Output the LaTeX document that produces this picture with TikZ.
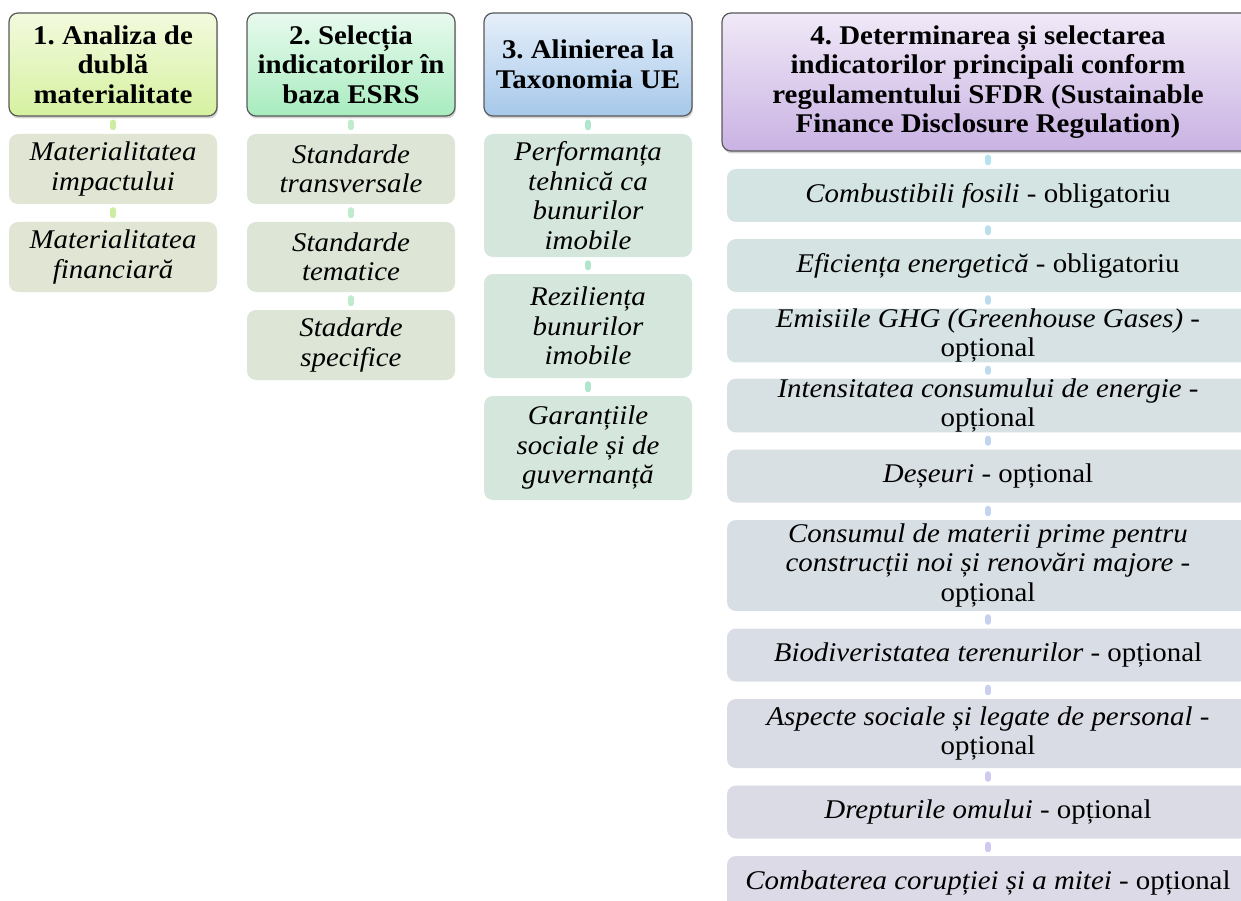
\documentclass[tikz,border=0pt]{standalone}
\usepackage{fontspec}
\setmainfont{Liberation Serif}[FakeStretch=1.07]
\frenchspacing
\usetikzlibrary{shadows}

\definecolor{hdaTop}{HTML}{F3FADE}
\definecolor{hdaBot}{HTML}{D6F1A0}
\definecolor{hdbTop}{HTML}{E8FAEE}
\definecolor{hdbBot}{HTML}{A8ECBF}
\definecolor{hdcTop}{HTML}{E6EFFA}
\definecolor{hdcBot}{HTML}{A6C8EA}
\definecolor{hddTop}{HTML}{F0E9F7}
\definecolor{hddBot}{HTML}{C9B2E3}
\definecolor{itemA}{HTML}{E1E6D4}
\definecolor{itemB}{HTML}{DDE6D6}
\definecolor{itemC}{HTML}{D5E6DD}
\definecolor{itemTop}{HTML}{D4E4E2}
\definecolor{itemBot}{HTML}{DCDAE6}
\definecolor{dotA}{HTML}{CDEDA0}
\definecolor{dotB}{HTML}{BDEDCB}
\definecolor{dotC}{HTML}{B0E6CC}
\definecolor{dotTop}{HTML}{B5E2EC}
\definecolor{dotBot}{HTML}{D0C8F0}

\begin{document}
\begin{tikzpicture}[x=1pt,y=-1pt,
    every node/.style={align=center, inner sep=0pt},
    head/.style={rounded corners=9pt, draw=black!65, line width=1.2pt,
        drop shadow={shadow xshift=1pt, shadow yshift=-2.5pt, opacity=0.35},
        font=\fontsize{27}{29.5}\selectfont\bfseries, minimum width=208pt, minimum height=103pt},
    item/.style={rounded corners=9pt, minimum width=208pt,
        font=\fontsize{27}{29.5}\selectfont\itshape},
    wide/.style={item, minimum width=522pt, minimum height=53pt,
        font=\fontsize{27}{29.5}\selectfont},
    link/.style={line width=6pt, shorten <=6pt, shorten >=6.5pt, line cap=round}
]
\useasboundingbox (0,0) rectangle (1241,901);

\node[head, top color=hdaTop, bottom color=hdaBot] (h1) at (113,64.5) {1. Analiza de\\dublă\\materialitate};
\node[head, top color=hdbTop, bottom color=hdbBot] (h2) at (351,64.5) {2. Selecția\\indicatorilor în\\baza ESRS};
\node[head, top color=hdcTop, bottom color=hdcBot] (h3) at (588,64.5) {3. Alinierea la\\Taxonomia UE};
\node[head, top color=hddTop, bottom color=hddBot, minimum width=532pt, minimum height=138pt] (h4) at (988,82)
    {4. Determinarea și selectarea\\indicatorilor principali conform\\regulamentului SFDR (Sustainable\\Finance Disclosure Regulation)};

\node[item, fill=itemA, minimum height=70pt] (m1) at (113,169) {Materialitatea\\impactului};
\node[item, fill=itemA, minimum height=70pt] (m2) at (113,257) {Materialitatea\\financiară};

\node[item, fill=itemB, minimum height=70pt] (e1) at (351,169) {Standarde\\transversale};
\node[item, fill=itemB, minimum height=70pt] (e2) at (351,257) {Standarde\\tematice};
\node[item, fill=itemB, minimum height=70pt] (e3) at (351,345) {Stadarde\\specifice};

\node[item, fill=itemC, minimum height=123pt] (t1) at (588,195.5) {Performanța\\tehnică ca\\bunurilor\\imobile};
\node[item, fill=itemC, minimum height=104pt] (t2) at (588,326) {Reziliența\\bunurilor\\imobile};
\node[item, fill=itemC, minimum height=104pt] (t3) at (588,448) {Garanțiile\\sociale și de\\guvernanță};

\node[wide, fill=itemTop] (s1) at (988,195.5) {\textit{Combustibili fosili} - obligatoriu};
\node[wide, fill=itemBot!11!itemTop] (s2) at (988,265.5) {\textit{Eficiența energetică} - obligatoriu};
\node[wide, fill=itemBot!22!itemTop] (s3) at (988,335.5) {\textit{Emisiile GHG (Greenhouse Gases)} -\\opțional};
\node[wide, fill=itemBot!33!itemTop] (s4) at (988,405.5) {\textit{Intensitatea consumului de energie} -\\opțional};
\node[wide, fill=itemBot!44!itemTop] (s5) at (988,476) {\textit{Deșeuri} - opțional};
\node[wide, fill=itemBot!55!itemTop, minimum height=91pt] (s6) at (988,565.5)
    {\textit{Consumul de materii prime pentru}\\\textit{construcții noi și renovări majore} -\\opțional};
\node[wide, fill=itemBot!66!itemTop] (s7) at (988,655) {\textit{Biodiveristatea terenurilor} - opțional};
\node[wide, fill=itemBot!77!itemTop, minimum height=69pt] (s8) at (988,733.5) {\textit{Aspecte sociale și legate de personal} -\\opțional};
\node[wide, fill=itemBot!88!itemTop] (s9) at (988,812) {\textit{Drepturile omului} - opțional};
\node[wide, fill=itemBot] (s10) at (988,882.5) {\textit{Combaterea corupției și a mitei} - opțional};

\draw[link, dotA] (h1) -- (m1);
\draw[link, dotA] (m1) -- (m2);
\draw[link, dotB] (h2) -- (e1);
\draw[link, dotB] (e1) -- (e2);
\draw[link, dotB] (e2) -- (e3);
\draw[link, dotC] (h3) -- (t1);
\draw[link, dotC] (t1) -- (t2);
\draw[link, dotC] (t2) -- (t3);
\draw[link, dotTop] (h4) -- (s1);
\draw[link, dotBot!11!dotTop] (s1) -- (s2);
\draw[link, dotBot!22!dotTop] (s2) -- (s3);
\draw[link, dotBot!33!dotTop] (s3) -- (s4);
\draw[link, dotBot!44!dotTop] (s4) -- (s5);
\draw[link, dotBot!55!dotTop] (s5) -- (s6);
\draw[link, dotBot!66!dotTop] (s6) -- (s7);
\draw[link, dotBot!77!dotTop] (s7) -- (s8);
\draw[link, dotBot!88!dotTop] (s8) -- (s9);
\draw[link, dotBot] (s9) -- (s10);

\end{tikzpicture}
\end{document}
